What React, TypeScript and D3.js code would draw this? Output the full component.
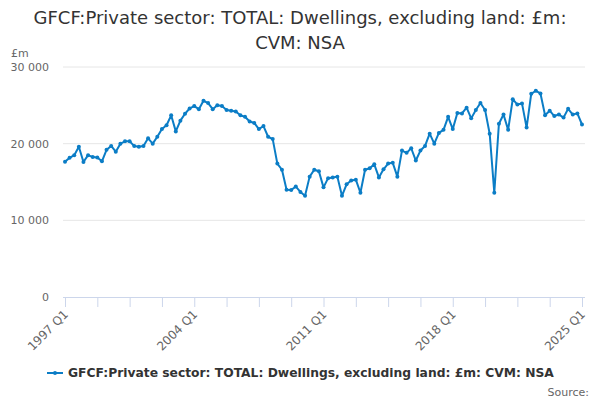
import { useEffect, useRef } from 'react';
import * as d3 from 'd3';

const title = ['GFCF:Private sector: TOTAL: Dwellings, excluding land: £m:', 'CVM: NSA'];
const seriesName = 'GFCF:Private sector: TOTAL: Dwellings, excluding land: £m: CVM: NSA';
const unitLabel = '£m';
const sourceLabel = 'Source:';

const firstYear = 1997;
const yTicks = [0, 10000, 20000, 30000];

// quarterly values, 1997 Q1 .. 2025 Q1 (£m)
const values = [
  17640, 18160, 18500, 19600, 17600, 18500, 18250, 18200, 17700, 19200,
  19700, 18950, 20000, 20300, 20300, 19700, 19600, 19700, 20700, 20000,
  20900, 21900, 22400, 23700, 21600, 23000, 23900, 24600, 24900, 24500,
  25600, 25300, 24500, 25000, 24900, 24400, 24300, 24200, 23700, 23500,
  22900, 22700, 21900, 22300, 20900, 20600, 17400, 16600, 14000, 13950,
  14400, 13700, 13200, 15700, 16600, 16400, 14300, 15500, 15600, 15700,
  13200, 14700, 15200, 15300, 13600, 16600, 16800, 17300, 15600, 16650,
  17400, 17500, 15700, 19100, 18800, 19400, 17800, 19100, 19700, 21300,
  20000, 21400, 21800, 23500, 21900, 24000, 23950, 24700, 23300, 24400,
  25300, 24400, 21300, 13600, 22600, 23800, 21800, 25800, 25100, 25250,
  22100, 26500, 26900, 26550, 23700, 24300, 23600, 23800, 23400, 24550,
  23800, 23950, 22500,
];

const quarters = values.map((_, i) => `${firstYear + Math.floor(i / 4)} Q${(i % 4) + 1}`);

export default function App() {
  const svgRef = useRef<SVGSVGElement>(null);

  useEffect(() => {
    if (!svgRef.current) return;
    const svg = d3.select(svgRef.current);
    svg.selectAll('*').remove();

    const width = 600;
    const height = 400;
    const font = '"DejaVu Sans", sans-serif';
    const color = '#0b7dc6';

    const x = d3.scaleLinear().domain([0, values.length - 1]).range([65, 582]);
    const y = d3.scaleLinear().domain([0, 30000]).range([297, 67]);

    svg.attr('width', width).attr('height', height).style('font-family', font);
    svg.append('rect').attr('width', width).attr('height', height).attr('fill', '#fff');

    // title
    svg.append('g')
      .selectAll('text')
      .data(title)
      .enter()
      .append('text')
      .attr('x', width / 2)
      .attr('y', (_, i) => 24 + i * 25)
      .attr('text-anchor', 'middle')
      .attr('font-size', 18)
      .attr('fill', '#333')
      .text(d => d);

    // gridlines + y labels
    const grid = svg.append('g');
    grid.selectAll('line')
      .data(yTicks)
      .enter()
      .append('line')
      .attr('x1', 63)
      .attr('x2', 585)
      .attr('y1', d => y(d))
      .attr('y2', d => y(d))
      .attr('stroke', d => (d === 0 ? 'none' : '#e6e6e6'));
    grid.selectAll('text')
      .data(yTicks)
      .enter()
      .append('text')
      .attr('x', 49)
      .attr('y', d => y(d) + 4)
      .attr('text-anchor', 'end')
      .attr('font-size', 11)
      .attr('fill', '#666')
      .text(d => d3.format(',')(d).replace(/,/g, ' '));

    svg.append('text')
      .attr('x', 11)
      .attr('y', 57)
      .attr('font-size', 11)
      .attr('fill', '#666')
      .text(unitLabel);

    // x axis
    const xAxis = svg.append('g');
    xAxis.append('line')
      .attr('x1', 63).attr('x2', 585)
      .attr('y1', 297.5).attr('y2', 297.5)
      .attr('stroke', '#ccd6eb');
    const tickIdx = d3.range(0, values.length, 7);
    xAxis.selectAll('line.tick')
      .data(tickIdx)
      .enter()
      .append('line')
      .attr('class', 'tick')
      .attr('x1', d => x(d) + 0.5)
      .attr('x2', d => x(d) + 0.5)
      .attr('y1', 297)
      .attr('y2', 307)
      .attr('stroke', '#ccd6eb');
    xAxis.selectAll('text')
      .data(tickIdx.filter(d => d % 28 === 0))
      .enter()
      .append('text')
      .attr('transform', d => `translate(${x(d) + 4},${315}) rotate(-45)`)
      .attr('text-anchor', 'end')
      .attr('font-size', 12)
      .attr('fill', '#666')
      .text(d => quarters[d]);

    // series
    const line = d3.line<number>()
      .x((_, i) => x(i))
      .y(d => y(d));
    svg.append('path')
      .datum(values)
      .attr('d', line)
      .attr('fill', 'none')
      .attr('stroke', color)
      .attr('stroke-width', 2)
      .attr('stroke-linejoin', 'round');
    svg.append('g')
      .selectAll('circle')
      .data(values)
      .enter()
      .append('circle')
      .attr('cx', (_, i) => x(i))
      .attr('cy', d => y(d))
      .attr('r', 2)
      .attr('fill', color);

    // legend
    const legend = svg.append('g').attr('transform', 'translate(0,373)');
    legend.append('line')
      .attr('x1', 47).attr('x2', 63)
      .attr('y1', 0).attr('y2', 0)
      .attr('stroke', color)
      .attr('stroke-width', 2);
    legend.append('circle').attr('cx', 55).attr('cy', 0).attr('r', 2).attr('fill', color);
    legend.append('text')
      .attr('x', 68)
      .attr('y', 4)
      .attr('font-size', 12.3)
      .attr('font-weight', 'bold')
      .attr('fill', '#333')
      .text(seriesName);

    svg.append('text')
      .attr('x', 589)
      .attr('y', 396)
      .attr('text-anchor', 'end')
      .attr('font-size', 11)
      .attr('fill', '#666')
      .text(sourceLabel);
  }, []);

  return <svg ref={svgRef} style={{ display: 'block', position: 'absolute', left: 0, top: 0 }} />;
}
